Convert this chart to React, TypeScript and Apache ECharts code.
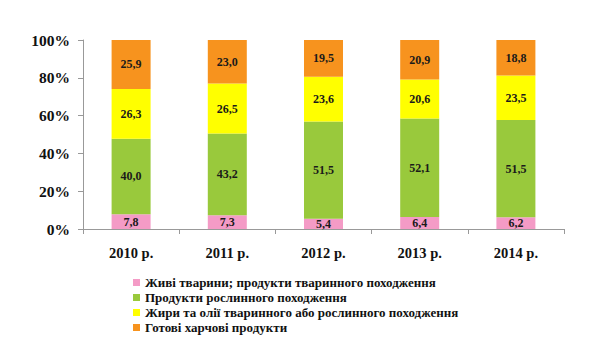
import React, { useEffect, useRef } from "react";
import * as echarts from "echarts";

const categories = ["2010 р.", "2011 р.", "2012 р.", "2013 р.", "2014 р."];
const seriesNames = [
  "Живі тварини; продукти тваринного походження",
  "Продукти рослинного походження",
  "Жири та олії тваринного або рослинного походження",
  "Готові харчові продукти",
];
const animals = [7.8, 7.3, 5.4, 6.4, 6.2];
const plants = [40.0, 43.2, 51.5, 52.1, 51.5];
const fats = [26.3, 26.5, 23.6, 20.6, 23.5];
const ready = [25.9, 23.0, 19.5, 20.9, 18.8];
const colors = ["#F49BC6", "#99C93C", "#FFFF00", "#F7931E"];

const FONT = "Liberation Serif";

export default function App() {
  const ref = useRef<HTMLDivElement>(null);
  useEffect(() => {
    if (!ref.current) return;
    const chart = echarts.init(ref.current, null, { renderer: "svg" });
    const data = [animals, plants, fats, ready];
    chart.setOption({
      animation: false,
      backgroundColor: "#ffffff",
      textStyle: { fontFamily: FONT },
      grid: { left: 75, right: 18, top: 32, bottom: 127 },
      legend: {
        orient: "vertical",
        left: 120,
        top: 262,
        itemWidth: 7,
        itemHeight: 7,
        itemGap: 0,
        icon: "rect",
        textStyle: {
          fontFamily: FONT,
          fontWeight: "bold",
          fontSize: 13,
          color: "#111",
          lineHeight: 15,
        },
        data: seriesNames,
      },
      xAxis: {
        type: "category",
        data: categories,
        axisLine: { lineStyle: { color: "#999" } },
        axisTick: { show: true, length: 5, lineStyle: { color: "#999" } },
        axisLabel: {
          fontFamily: FONT,
          fontWeight: "bold",
          fontSize: 14.5,
          color: "#111",
          margin: 16,
        },
      },
      yAxis: {
        type: "value",
        min: 0,
        max: 100,
        interval: 20,
        splitLine: { show: false },
        axisLine: { show: true, lineStyle: { color: "#999" } },
        axisTick: { show: true, length: 5, lineStyle: { color: "#999" } },
        axisLabel: {
          fontFamily: FONT,
          fontWeight: "bold",
          fontSize: 15.5,
          color: "#111",
          margin: 13,
          formatter: "{value}%",
        },
      },
      series: seriesNames.map((name, i) => ({
        name,
        type: "bar",
        stack: "total",
        barWidth: 39,
        data: data[i],
        itemStyle: { color: colors[i] },
        label: {
          show: true,
          position: "inside",
          fontFamily: FONT,
          fontWeight: "bold",
          fontSize: 12,
          color: "#1a1a1a",
          formatter: (p: any) => Number(p.value).toFixed(1).replace(".", ","),
        },
      })),
    });
    return () => chart.dispose();
  }, []);
  return <div ref={ref} style={{ width: 574, height: 348 }} />;
}
